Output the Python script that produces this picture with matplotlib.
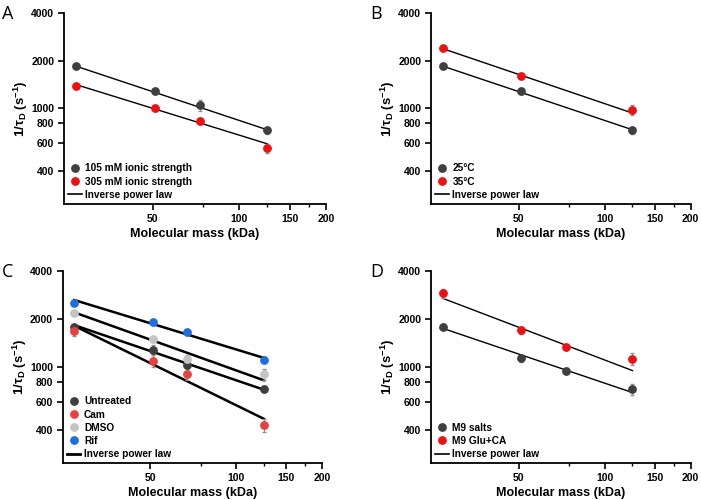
import numpy as np
import matplotlib
matplotlib.use("Agg")
import matplotlib.pyplot as plt
from matplotlib.ticker import FixedLocator, NullFormatter, FixedFormatter
from matplotlib.lines import Line2D

plt.rcParams['font.family'] = ['Liberation Sans', 'DejaVu Sans']

# ---------------- data ----------------
# Panel A
mass_A = [27, 51, 73, 125]
a_105 = [1846, 1274, 1045, 722]
a_105_err = [40, 40, 80, 40]
a_305 = [1384, 1000, 834, 558]
a_305_err = [30, 30, 30, 35]
a_fit_105 = [1846, 729]
a_fit_305 = [1411, 594]

# Panel B
mass_B = [27, 51, 125]
b_25 = [1846, 1274, 722]
b_25_err = [40, 40, 40]
b_35 = [2418, 1600, 975]
b_35_err = [50, 40, 70]
b_fit_25 = [1846, 729]
b_fit_35 = [2382, 930]

# Panel C
mass_C = [27, 51, 67, 125]
c_untr = [1778, 1280, 1029, 723]
c_untr_err = [40, 80, 70, 30]
c_cam = [1678, 1091, 899, 429]
c_cam_err = [130, 90, 80, 40]
c_dmso = [2168, 1487, 1123, 899]
c_dmso_err = [50, 50, 60, 70]
c_rif = [2518, 1902, 1638, 1107]
c_rif_err = [40, 40, 40, 40]
c_fit_rif = [2618, 1134]
c_fit_dmso = [2190, 820]
c_fit_untr = [1821, 716]
c_fit_cam = [1803, 470]

# Panel D
mass_D = [27, 51, 73, 125]
d_m9 = [1783, 1128, 944, 721]
d_m9_err = [70, 60, 30, 60]
d_glu = [2885, 1691, 1329, 1122]
d_glu_err = [180, 90, 40, 100]
d_fit_m9 = [1740, 687]
d_fit_glu = [2686, 944]

x_ticks = [50, 100, 150, 200]
x_minor = [75, 125, 175]
y_ticks = [400, 600, 800, 1000, 2000, 4000]

DARK = '#3f3f3f'
RED = '#ee1111'
RED_C = '#e8403d'
LGRAY = '#c4c4c4'
BLUE = '#1f6fdc'

W, H = 701, 500
fig = plt.figure(figsize=(W / 100, H / 100), dpi=100)


def make_ax(l, r, t, b):
    return fig.add_axes([l / W, 1 - b / H, (r - l) / W, (b - t) / H])


def style(ax, letter):
    ax.set_xscale('log')
    ax.set_yscale('log')
    ax.set_xlim(24.6, 200)
    ax.set_ylim(247, 4000)
    ax.xaxis.set_major_locator(FixedLocator(x_ticks))
    ax.xaxis.set_major_formatter(FixedFormatter([str(t) for t in x_ticks]))
    ax.xaxis.set_minor_locator(FixedLocator(x_minor))
    ax.xaxis.set_minor_formatter(NullFormatter())
    ax.yaxis.set_major_locator(FixedLocator(y_ticks))
    ax.yaxis.set_major_formatter(FixedFormatter([str(t) for t in y_ticks]))
    ax.yaxis.set_minor_locator(FixedLocator([]))
    ax.yaxis.set_minor_formatter(NullFormatter())
    for s in ['top', 'right']:
        ax.spines[s].set_visible(False)
    for s in ['left', 'bottom']:
        ax.spines[s].set_linewidth(1.3)
    ax.tick_params(axis='both', which='major', direction='out', length=4, width=1.2,
                   labelsize=7.5, pad=3)
    ax.tick_params(axis='x', which='minor', direction='out', length=2.5, width=1.0)
    for lab in ax.get_xticklabels() + ax.get_yticklabels():
        lab.set_fontweight('bold')
    ax.set_xlabel('Molecular mass (kDa)', fontsize=9, fontweight='bold', labelpad=3)
    ax.set_ylabel('1/\u03c4$_\\mathregular{D}$ (s$^\\mathregular{-1}$)', fontsize=9.5,
                  fontweight='bold', labelpad=1)
    ax.text(-0.235, 1.04, letter, transform=ax.transAxes, fontsize=13,
            family=['Open Sans', 'DejaVu Sans'], va='top', ha='left')


def series(ax, x, y, err, color, fit, lw):
    ax.errorbar(x, y, yerr=err, fmt='o', ms=5.3, color=color, mec=color, ecolor='#909090',
                elinewidth=0.8, capsize=1.5, zorder=3)
    ax.plot([x[0], x[-1]], fit, color='black', lw=lw, zorder=2)


def legend(ax, items, lw):
    handles = [Line2D([], [], marker='o', ls='none', color=c, ms=5.3) for c, _ in items]
    handles.append(Line2D([], [], color='black', lw=lw))
    labels = [t for _, t in items] + ['Inverse power law']
    ax.legend(handles, labels, loc='lower left', frameon=False,
              prop={'weight': 'bold', 'size': 7.3}, handlelength=1.35,
              handletextpad=0.35, labelspacing=0.32, borderaxespad=0.2,
              borderpad=0.2)


# A
axA = make_ax(64, 326, 13, 204)
style(axA, 'A')
series(axA, mass_A, a_105, a_105_err, DARK, a_fit_105, 1.0)
series(axA, mass_A, a_305, a_305_err, RED, a_fit_305, 1.0)
legend(axA, [(DARK, '105 mM ionic strength'), (RED, '305 mM ionic strength')], 1.2)

# B
axB = make_ax(431, 690.7, 13, 204)
style(axB, 'B')
series(axB, mass_B, b_25, b_25_err, DARK, b_fit_25, 1.0)
series(axB, mass_B, b_35, b_35_err, RED, b_fit_35, 1.0)
legend(axB, [(DARK, '25\u00b0C'), (RED, '35\u00b0C')], 1.2)

# C
axC = make_ax(62.7, 322, 270.7, 463.3)
style(axC, 'C')
series(axC, mass_C, c_untr, c_untr_err, DARK, c_fit_untr, 1.8)
series(axC, mass_C, c_cam, c_cam_err, RED_C, c_fit_cam, 1.8)
series(axC, mass_C, c_dmso, c_dmso_err, LGRAY, c_fit_dmso, 1.8)
series(axC, mass_C, c_rif, c_rif_err, BLUE, c_fit_rif, 1.8)
legend(axC, [(DARK, 'Untreated'), (RED_C, 'Cam'), (LGRAY, 'DMSO'), (BLUE, 'Rif')], 2.0)

# D
axD = make_ax(431, 690.7, 270.7, 463.3)
style(axD, 'D')
series(axD, mass_D, d_m9, d_m9_err, DARK, d_fit_m9, 1.0)
series(axD, mass_D, d_glu, d_glu_err, RED, d_fit_glu, 1.0)
legend(axD, [(DARK, 'M9 salts'), (RED, 'M9 Glu+CA')], 1.2)

fig.savefig('out.png', dpi=100)
